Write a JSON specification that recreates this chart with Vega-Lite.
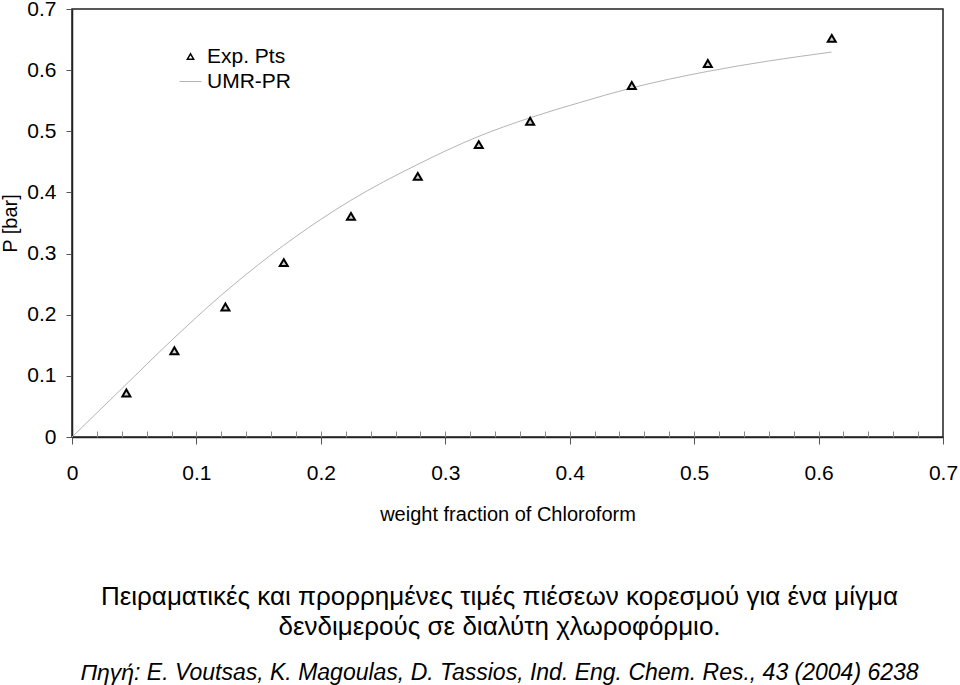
{
  "$schema": "https://vega.github.io/schema/vega-lite/v6.json",
  "width": 871,
  "height": 428,
  "autosize": {"type": "none"},
  "padding": {"left": 72, "top": 9, "right": 17, "bottom": 248},
  "background": "white",
  "config": {
    "font": "Liberation Sans",
    "view": {"stroke": "#222222", "strokeWidth": 1.5},
    "axis": {"grid": false, "labelFont": "Liberation Sans", "titleFont": "Liberation Sans", "labelColor": "black", "titleColor": "black", "domainColor": "#222222", "tickColor": "#555555", "labelFontSize": 21, "titleFontSize": 20, "titleFontWeight": "normal", "labelFlush": false, "labelOverlap": false}
  },
  "datasets": {
    "umr": [
      {"x": 0, "P": 0, "series": "UMR-PR"},
      {"x": 0.04, "P": 0.079, "series": "UMR-PR"},
      {"x": 0.08, "P": 0.158, "series": "UMR-PR"},
      {"x": 0.12, "P": 0.232, "series": "UMR-PR"},
      {"x": 0.16, "P": 0.298, "series": "UMR-PR"},
      {"x": 0.2, "P": 0.356, "series": "UMR-PR"},
      {"x": 0.224, "P": 0.387, "series": "UMR-PR"},
      {"x": 0.277, "P": 0.445, "series": "UMR-PR"},
      {"x": 0.326, "P": 0.491, "series": "UMR-PR"},
      {"x": 0.368, "P": 0.522, "series": "UMR-PR"},
      {"x": 0.408, "P": 0.547, "series": "UMR-PR"},
      {"x": 0.448, "P": 0.570, "series": "UMR-PR"},
      {"x": 0.511, "P": 0.598, "series": "UMR-PR"},
      {"x": 0.56, "P": 0.615, "series": "UMR-PR"},
      {"x": 0.6104, "P": 0.6295, "series": "UMR-PR"}
    ],
    "exp": [
      {"x": 0.0437, "P": 0.0721, "series": "Exp. Pts"},
      {"x": 0.0823, "P": 0.141, "series": "Exp. Pts"},
      {"x": 0.1233, "P": 0.2126, "series": "Exp. Pts"},
      {"x": 0.1702, "P": 0.2852, "series": "Exp. Pts"},
      {"x": 0.2242, "P": 0.3608, "series": "Exp. Pts"},
      {"x": 0.2779, "P": 0.4262, "series": "Exp. Pts"},
      {"x": 0.3269, "P": 0.4782, "series": "Exp. Pts"},
      {"x": 0.3682, "P": 0.5164, "series": "Exp. Pts"},
      {"x": 0.4499, "P": 0.575, "series": "Exp. Pts"},
      {"x": 0.511, "P": 0.611, "series": "Exp. Pts"},
      {"x": 0.6106, "P": 0.652, "series": "Exp. Pts"}
    ]
  },
  "title": {
    "text": ["Πειραματικές και προρρημένες τιμές πιέσεων κορεσμού για ένα μίγμα", "δενδιμερούς σε διαλύτη χλωροφόρμιο."],
    "subtitle": "Πηγή: E. Voutsas, K. Magoulas, D. Tassios, Ind. Eng. Chem. Res., 43 (2004) 6238",
    "orient": "bottom",
    "anchor": "middle",
    "frame": "group",
    "dx": -8,
    "offset": 60,
    "font": "Liberation Sans",
    "fontSize": 26,
    "fontWeight": "normal",
    "color": "black",
    "lineHeight": 30,
    "subtitleFont": "Liberation Sans",
    "subtitleFontSize": 23,
    "subtitleFontStyle": "italic",
    "subtitleColor": "black",
    "subtitlePadding": 22
  },
  "resolve": {"axis": {"x": "independent", "y": "independent"}},
  "layer": [
    {
      "data": {"name": "umr"},
      "mark": {"type": "line", "strokeWidth": 1, "interpolate": "monotone"},
      "encoding": {
        "x": {"field": "x", "type": "quantitative", "scale": {"domain": [0, 0.7], "nice": false},
          "axis": {"orient": "bottom", "values": [0, 0.1, 0.2, 0.3, 0.4, 0.5, 0.6, 0.7], "format": ".1~f", "tickSize": 7, "tickWidth": 1, "domainWidth": 1.5, "labelPadding": 18, "title": "weight fraction of Chloroform", "titlePadding": 21}},
        "y": {"field": "P", "type": "quantitative", "scale": {"domain": [0, 0.7], "nice": false},
          "axis": {"orient": "left", "values": [0, 0.1, 0.2, 0.3, 0.4, 0.5, 0.6, 0.7], "format": ".1~f", "tickSize": 6, "domainWidth": 1.5, "labelPadding": 10, "title": "P [bar]", "titlePadding": 6}},
        "color": {"field": "series", "type": "nominal", "scale": {"domain": ["Exp. Pts", "UMR-PR"], "range": ["#000000", "#b4b4b4"]},
          "legend": {"title": null, "orient": "none", "legendX": 108, "legendY": 37, "labelFontSize": 21, "labelFont": "Liberation Sans", "labelColor": "black", "symbolSize": 484, "symbolStrokeWidth": 1, "rowPadding": 3, "labelOffset": 6,
            "encode": {"symbols": {"update": {"size": {"signal": "datum.value === 'UMR-PR' ? 484 : 40"}, "strokeWidth": {"signal": "datum.value === 'UMR-PR' ? 1 : 1.5"}}}}}}
      }
    },
    {
      "data": {"name": "exp"},
      "mark": {"type": "point", "filled": false, "fill": "#d0d0d0", "strokeWidth": 2, "size": 64, "opacity": 1},
      "encoding": {
        "x": {"field": "x", "type": "quantitative", "scale": {"domain": [0, 0.7], "nice": false},
          "axis": {"orient": "bottom", "values": [0.02, 0.04, 0.06, 0.08, 0.1, 0.12, 0.14, 0.16, 0.18, 0.2, 0.22, 0.24, 0.26, 0.28, 0.3, 0.32, 0.34, 0.36, 0.38, 0.4, 0.42, 0.44, 0.46, 0.48, 0.5, 0.52, 0.54, 0.56, 0.58, 0.6, 0.62, 0.64, 0.66, 0.68], "tickSize": -6, "tickColor": "#888888", "labels": false, "domain": false, "title": null}},
        "y": {"field": "P", "type": "quantitative", "scale": {"domain": [0, 0.7], "nice": false}, "axis": null},
        "color": {"field": "series", "type": "nominal"},
        "shape": {"field": "series", "type": "nominal", "scale": {"domain": ["Exp. Pts", "UMR-PR"], "range": ["triangle-up", "stroke"]}}
      }
    }
  ]
}
